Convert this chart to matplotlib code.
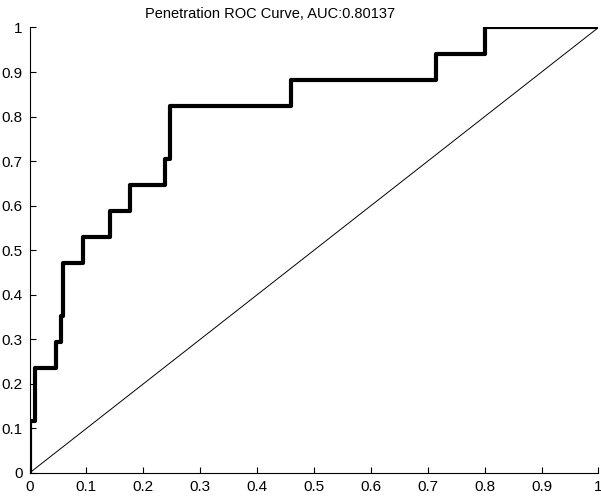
import numpy as np
import matplotlib
matplotlib.use('Agg')
import matplotlib.pyplot as plt

# ROC points (17 positives)
fpr = [0, 0, 0.0097, 0.0097, 0.046, 0.046, 0.055, 0.055, 0.058, 0.058, 0.094, 0.094,
       0.142, 0.142, 0.177, 0.177, 0.239, 0.239, 0.2475, 0.2475, 0.46, 0.46,
       0.715, 0.715, 0.8, 0.8, 1]
tpr = [0, 2/17, 2/17, 4/17, 4/17, 5/17, 5/17, 6/17, 6/17, 8/17, 8/17, 9/17,
       9/17, 10/17, 10/17, 11/17, 11/17, 12/17, 12/17, 14/17, 14/17, 15/17,
       15/17, 16/17, 16/17, 1, 1]
auc = 0.80137
ticks = np.arange(0, 1.01, 0.1)
tick_labels = ['0', '0.1', '0.2', '0.3', '0.4', '0.5', '0.6', '0.7', '0.8', '0.9', '1']

plt.rcParams['font.family'] = ['Liberation Sans', 'DejaVu Sans']

fig = plt.figure(figsize=(6.01, 4.97), dpi=100)
ax = fig.add_axes([0.0491, 0.0483, 0.9467, 0.8964])

ax.plot(fpr, tpr, color='black', lw=3)
ax.plot([0, 1], [0, 1], color='black', lw=0.7)

ax.set_xlim(0, 1)
ax.set_ylim(0, 1)
ax.set_xticks(ticks)
ax.set_yticks(ticks)
ax.set_xticklabels(tick_labels)
ax.set_yticklabels(tick_labels)
ax.tick_params(direction='in', length=4, width=0.8, labelsize=11, pad=5)
ax.spines['top'].set_visible(False)
ax.spines['right'].set_visible(False)

fig.text(270 / 601, 1 - 14 / 497, 'Penetration ROC Curve, AUC:%.5f' % auc,
         ha='center', va='center', fontsize=10.5)

plt.savefig('out.png', dpi=100)
